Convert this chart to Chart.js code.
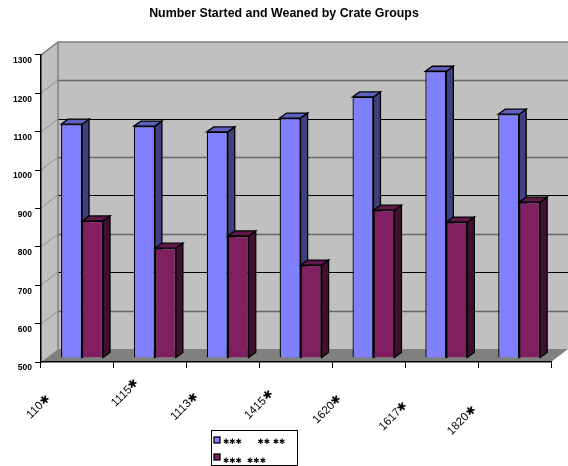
<!DOCTYPE html>
<html><head><meta charset="utf-8">
<style>html,body{margin:0;padding:0;background:#fff}#w{width:568px;height:466px;position:relative}</style>
<script src="https://cdn.jsdelivr.net/npm/chart.js@4"></script>
</head><body><div id="w"><canvas id="c" width="568" height="466"></canvas></div>
<script>
const categories = ["110✱","1115✱","1113✱","1415✱","1620✱","1617✱","1820✱"];
const seriesNames = ["✱✱✱      ✱✱ ✱✱","✱✱✱  ✱✱✱"];
const started = [1109,1104,1089,1125,1180,1247,1135];
const weaned = [857,786,818,742,885,854,906];
const yTicks = [500,600,700,800,900,1000,1100,1200,1300];

const blue = {front:"#8080ff", side:"#404080", top:"#6060c0"};
const plum = {front:"#802060", side:"#401030", top:"#601848"};
const palettes = [blue, plum];

const DX = 17, DY = 13;
const BDX = 7, BDY = 5;
const SX = 4.6, SY = -4;
// trailing blanks that each rotated category label carries
const labelTrail = [7,0,6,5,7,10,12];

function poly(ctx, pts, fill, stroke, lw){
  ctx.beginPath();
  pts.forEach((p,i)=> i?ctx.lineTo(p[0],p[1]):ctx.moveTo(p[0],p[1]));
  ctx.closePath();
  if(fill){ctx.fillStyle=fill;ctx.fill();}
  if(stroke){ctx.strokeStyle=stroke;ctx.lineWidth=lw||1;ctx.stroke();}
}

const box3d = {
  id:"box3d",
  beforeDraw(chart){
    const {ctx, chartArea:a, scales:{y}} = chart;
    const l=a.left,r=a.right,t=a.top,b=a.bottom;
    ctx.save();
    poly(ctx,[[l+DX,t-DY],[r+DX,t-DY],[r+DX,b-DY],[l+DX,b-DY]],"#c0c0c0");
    poly(ctx,[[l,t],[l+DX,t-DY],[l+DX,b-DY],[l,b]],"#c0c0c0");
    poly(ctx,[[l,b],[l+DX,b-DY],[r+DX,b-DY],[r,b]],"#808080");
    yTicks.forEach((v,i)=>{
      const py=Math.round(y.getPixelForValue(v));
      if(v>yTicks[0] && v<yTicks[yTicks.length-1]){
        ctx.strokeStyle = i%2 ? "#666" : "#000";
        ctx.lineWidth = i%2 ? 1.5 : 1;
        ctx.beginPath();ctx.moveTo(l+DX,py-DY+.5);ctx.lineTo(r+DX,py-DY+.5);ctx.stroke();
      }
      if(v>yTicks[0]){
        ctx.strokeStyle="#909090";ctx.lineWidth=1;
        ctx.beginPath();ctx.moveTo(l,py);ctx.lineTo(l+DX,py-DY);ctx.stroke();
      }
    });
    ctx.strokeStyle="#808080";ctx.lineWidth=1.5;
    ctx.beginPath();ctx.moveTo(l,t);ctx.lineTo(l+DX,t-DY);ctx.lineTo(r+DX,t-DY);ctx.stroke();
    ctx.beginPath();ctx.moveTo(l+DX,t-DY);ctx.lineTo(l+DX,b-DY);ctx.stroke();
    ctx.restore();
  },
  beforeDatasetsDraw(chart){
    const ctx = chart.ctx;
    ctx.save();
    ctx.translate(SX,SY);
    categories.forEach((_,i)=>{
      chart.data.datasets.forEach((ds,d)=>{
        const el = chart.getDatasetMeta(d).data[i];
        const {x,y,width,base} = el.getProps(["x","y","width","base"],true);
        const L=x-width/2,R=x+width/2,p=palettes[d];
        poly(ctx,[[R,y],[R+BDX,y-BDY],[R+BDX,base-BDY],[R,base]],p.side,"#000",1.3);
        poly(ctx,[[L,y],[L+BDX,y-BDY],[R+BDX,y-BDY],[R,y]],p.top,"#000",1.3);
        el.draw(ctx);
      });
    });
    ctx.restore();
    return false;
  },
  afterDraw(chart){
    const ctx = chart.ctx;
    ctx.save();
    const lx=211.5,ly=430.5,lw=86,lh=35;
    ctx.fillStyle="#fff";ctx.strokeStyle="#000";ctx.lineWidth=1;
    ctx.fillRect(lx,ly,lw,lh);ctx.strokeRect(lx,ly,lw,lh);
    seriesNames.forEach((n,i)=>{
      const yy=ly+6.5+i*17;
      ctx.fillStyle=palettes[i].front;ctx.strokeStyle="#000";ctx.lineWidth=1.3;
      ctx.fillRect(lx+2.5,yy,6,6);ctx.strokeRect(lx+2.5,yy,6,6);
      ctx.fillStyle="#000";ctx.font="bold 7.5px 'DejaVu Sans'";ctx.textAlign="left";ctx.textBaseline="middle";
      ctx.fillText(n,lx+11.5,ly+12+i*19);
    });
    ctx.restore();
  }
};

new Chart(document.getElementById("c"),{
  type:"bar",
  data:{labels:categories,datasets:[
    {label:seriesNames[0],data:started,base:500,backgroundColor:blue.front,borderColor:"#000",borderWidth:1.3},
    {label:seriesNames[1],data:weaned,base:500,backgroundColor:plum.front,borderColor:"#000",borderWidth:1.3}
  ]},
  options:{
    responsive:false,animation:false,
    layout:{padding:0},
    datasets:{bar:{categoryPercentage:0.576,barPercentage:1}},
    plugins:{
      legend:{display:false},tooltip:{enabled:false},
      title:{display:true,text:"Number Started and Weaned by Crate Groups",color:"#000",
        font:{family:"'Liberation Sans'",size:12.4,weight:"bold"},padding:{top:6,bottom:34}}
    },
    scales:{
      x:{
        afterFit(s){s.height=104;},
        border:{color:"#000",width:1.5},
        grid:{drawOnChartArea:false,color:"#000",tickLength:6,lineWidth:1},
        ticks:{color:"#000",font:{family:"'Liberation Sans'",size:11.5},minRotation:45,maxRotation:45,padding:8,labelOffset:-13,autoSkip:false,
          callback(v,i){return categories[i]+"\u00a0".repeat(labelTrail[i]);}}
      },
      y:{
        min:500,max:1300,
        afterFit(s){s.width=41;},
        afterBuildTicks(s){s.ticks=yTicks.map(v=>({value:v}));},
        border:{color:"#000",width:1.5},
        grid:{drawOnChartArea:false,color:"#000",tickLength:6,lineWidth:1},
        ticks:{color:"#000",font:{family:"'Liberation Sans'",size:8.5,weight:"bold"},padding:3,labelOffset:6,callback:v=>String(v)}
      },
      rightGap:{
        position:"right",display:true,
        afterFit(s){s.width=17;},
        grid:{display:false},border:{display:false},ticks:{display:false}
      }
    }
  },
  plugins:[box3d]
});
</script></body></html>
